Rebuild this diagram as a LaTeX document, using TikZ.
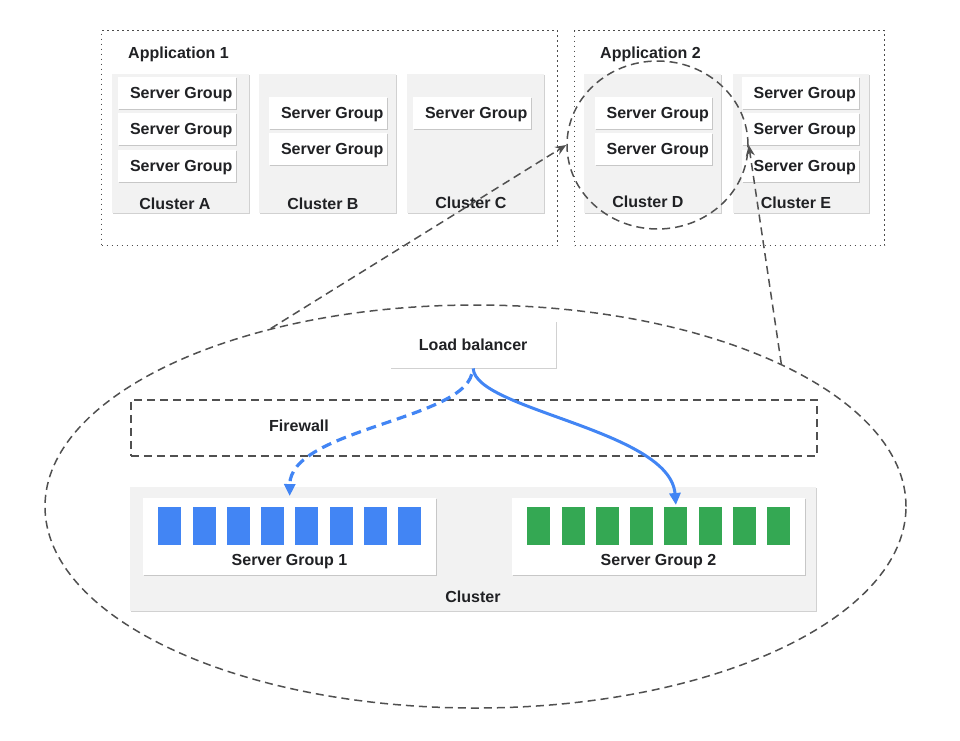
\documentclass[tikz,border=0pt]{standalone}
\usepackage{fontspec}
\setmainfont{Liberation Sans}
\usetikzlibrary{shapes.geometric,shadows,arrows.meta}
\definecolor{txt}{HTML}{202124}
\definecolor{boxgray}{HTML}{F2F2F2}
\definecolor{gblue}{HTML}{4285F4}
\definecolor{ggreen}{HTML}{34A853}
\definecolor{dgray}{HTML}{505050}
\tikzset{
  lbl/.style={font=\fontsize{16}{18}\selectfont\bfseries, text=txt, inner sep=0pt, text depth=0pt},
  shd/.style={drop shadow={shadow xshift=0.3pt, shadow yshift=-1.2pt, fill=black!60, opacity=0.3}},
  clus/.style={shd, fill=boxgray, draw=none, minimum width=137, minimum height=139, anchor=north west, inner sep=0pt},
  sgbox/.style={shd, fill=white, draw=none, minimum width=118, minimum height=32, anchor=north west, inner sep=0pt, text depth=0pt, font=\fontsize{16}{18}\selectfont\bfseries, text=txt},
  appbox/.style={draw=black!70, line width=1.2pt, dash pattern=on 1.3pt off 3.7pt, minimum height=215, anchor=north west, inner sep=0pt},
  gdash/.style={draw=dgray, line width=1.5pt, dash pattern=on 8pt off 5pt},
  garrow/.style={gdash, -{Stealth[length=11pt,width=9pt]}},
  bar/.style={minimum width=23, minimum height=38, anchor=north west, inner sep=0pt, draw=none},
  whbox/.style={shd, fill=white, draw=none, minimum width=293, minimum height=77, anchor=north west, inner sep=0pt},
}
\begin{document}
\begin{tikzpicture}[x=1pt,y=-1pt]
\useasboundingbox (0,0) rectangle (960,740);
% Application boxes
\node[appbox, minimum width=456] (app1) at (101,30) {};
\node[appbox, minimum width=310] (app2) at (574,30) {};
\node[lbl, anchor=west] (app1t) at (128,53) {Application 1};
\node[lbl, anchor=west] (app2t) at (600,53) {Application 2};
% Clusters
\node[clus] (cA) at (112,74) {};
\node[clus] (cB) at (259,74) {};
\node[clus] (cC) at (407,74) {};
\node[clus] (cD) at (584,74) {};
\node[clus, minimum width=136] (cE) at (733,74) {};
\node[lbl] (cAt) at (175,204) {Cluster A};
\node[lbl] (cBt) at (323,204) {Cluster B};
\node[lbl] (cCt) at (471,203) {Cluster C};
\node[lbl] (cDt) at (648,202) {Cluster D};
\node[lbl] (cEt) at (796,203) {Cluster E};
% Server groups
\node[sgbox] (a1) at (118,77) {\hspace{8pt}Server Group};
\node[sgbox] (a2) at (118,113) {\hspace{8pt}Server Group};
\node[sgbox] (a3) at (118,150) {\hspace{8pt}Server Group};
\node[sgbox] (b1) at (269,97) {\hspace{8pt}Server Group};
\node[sgbox] (b2) at (269,133) {\hspace{8pt}Server Group};
\node[sgbox] (c1) at (413,97) {\hspace{8pt}Server Group};
\node[sgbox, minimum width=117] (d1) at (595,97) {\hspace{8pt}Server Group};
\node[sgbox, minimum width=117] (d2) at (595,133) {\hspace{8pt}Server Group};
\node[sgbox, minimum width=117] (e1) at (742,77) {\hspace{8pt}Server Group};
\node[sgbox, minimum width=117] (e2) at (742,113) {\hspace{8pt}Server Group};
\node[sgbox, minimum width=117] (e3) at (742,150) {\hspace{8pt}Server Group};
% circle around cluster D
\node[gdash, ellipse, minimum width=181, minimum height=168, inner sep=0pt] (circD) at (657.5,145) {};
% big ellipse
\node[gdash, ellipse, minimum width=861, minimum height=403, inner sep=0pt] (bigE) at (475.5,506.5) {};
% load balancer
\node[shd, fill=white, minimum width=166, minimum height=47, anchor=north west, inner sep=0pt, lbl] (lb) at (390,321) {Load balancer};
% firewall
\node[gdash, minimum width=686, minimum height=56, anchor=north west, inner sep=0pt] (fw) at (130,399) {};
\node[lbl] (fwt) at (299,426) {Firewall};
% cluster
\node[shd, fill=boxgray, minimum width=686, minimum height=124, anchor=north west, inner sep=0pt] (cl) at (130,487) {};
\node[lbl] (clt) at (473,597) {Cluster};
\node[whbox] (sg1) at (143,498) {};
\node[whbox] (sg2) at (512,498) {};
\node[lbl] (sg1t) at (289.5,560) {Server Group 1};
\node[lbl] (sg2t) at (658.5,560) {Server Group 2};
\foreach \i in {1,...,8} {
  \node[bar, fill=gblue] (bb\i) at ({158+(\i-1)*34.3},507) {};
  \node[bar, fill=ggreen] (gg\i) at ({527+(\i-1)*34.3},507) {};
}
% connectors
\draw[garrow] (bigE.139) -- (circD.west);
\draw[garrow] (bigE.25) -- (circD.east);
\draw[gblue, line width=3pt, -{Triangle[length=12pt,width=11pt]}] (lb.south) .. controls (475,410) and (670,430) .. ([yshift=2pt]gg5.north);
\draw[gblue, line width=3.2pt, dash pattern=on 10pt off 6pt, -{Triangle[length=12pt,width=11pt]}, shorten <=6pt] (lb.south) .. controls (460,420) and (290,430) .. ([yshift=2pt]sg1.north);
\end{tikzpicture}
\end{document}
